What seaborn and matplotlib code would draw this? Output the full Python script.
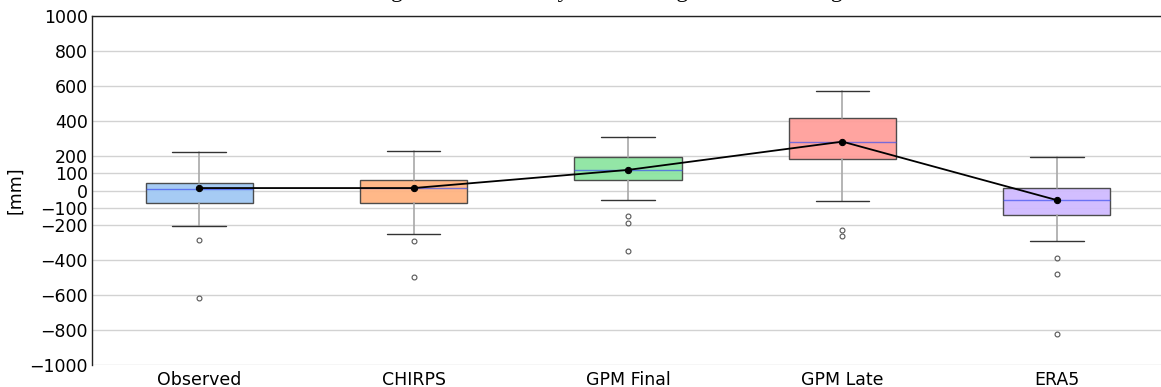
import numpy as np
import matplotlib
matplotlib.use("Agg")
import matplotlib.pyplot as plt
import seaborn as sns

# ---- data ----
categories = ["Observed", "CHIRPS", "GPM Final", "GPM Late", "ERA5"]
q1 = [-74, -74, 61, 181, -141]
medians = [10, 15, 118, 280, -53]
q3 = [44, 61, 194, 415, 15]
whisker_low = [-204, -250, -57, -63, -290]
whisker_high = [221, 225, 307, 570, 192]
outliers = [[-282, -615], [-290, -497], [-147, -189, -345], [-225, -261], [-389, -476, -823]]
means = [14, 14, 118, 280, -55]
y_ticks = [1000, 800, 600, 400, 200, 100, 0, -100, -200, -400, -600, -800, -1000]
title = "Average annual anomaly relative to ground observing stations"

sns.set_theme(style="whitegrid")
palette = sns.color_palette("pastel")

fig = plt.figure(figsize=(11.61, 3.87), dpi=100)
ax = fig.add_axes([92 / 1161, 22 / 387, 1072 / 1161, 349 / 387])

stats = []
for i, c in enumerate(categories):
    stats.append(dict(label=c, q1=q1[i], med=medians[i], q3=q3[i],
                      whislo=whisker_low[i], whishi=whisker_high[i],
                      fliers=outliers[i], mean=means[i]))

pos = np.arange(len(categories))
bp = ax.bxp(stats, positions=pos, widths=0.5, patch_artist=True, showfliers=True,
            showmeans=False,
            boxprops=dict(edgecolor="#444444", linewidth=1.0),
            whiskerprops=dict(color="#a8a8a8", linewidth=1.2),
            capprops=dict(color="#333333", linewidth=1.0),
            medianprops=dict(color="#3f52f0", linewidth=1.0, alpha=0.7),
            flierprops=dict(marker="o", markersize=3.5, markerfacecolor="none",
                            markeredgecolor="#555555", markeredgewidth=0.8))
for patch, col in zip(bp["boxes"], palette[:5]):
    patch.set_facecolor(col)
    patch.set_alpha(0.95)

sns.lineplot(x=pos, y=means, ax=ax, color="black", marker="o", markersize=4.5,
             markeredgecolor="black", linewidth=1.3, zorder=5)

ax.set_xlim(-0.5, 4.5)
ax.set_ylim(-1000, 1000)
ax.set_yticks(y_ticks)
ax.set_yticklabels([f"{v}".replace("-", "\u2212") for v in y_ticks])
ax.set_xticks(pos)
ax.set_xticklabels(categories)
ax.tick_params(axis="both", labelsize=12.5, colors="black")
ax.tick_params(axis="x", length=2, width=0.6, pad=2, color="#cccccc")
ax.tick_params(axis="y", length=2, width=0.6, pad=1)
ax.grid(axis="y", color="#d2d2d2", linewidth=1.0)
ax.grid(axis="x", visible=False)
ax.set_axisbelow(True)

for s in ["left", "top"]:
    ax.spines[s].set_visible(True)
    ax.spines[s].set_color("#222222")
    ax.spines[s].set_linewidth(1.0)
ax.spines["bottom"].set_visible(False)
ax.spines["right"].set_visible(False)

ax.set_ylabel("[mm]", fontsize=12.5, color="black", labelpad=4)
ax.set_xlabel("")

fig.text(628 / 1161, 1.0 + 3 / 387, title, ha="center", va="baseline",
         family="Liberation Serif", fontsize=17, color="black")

fig.savefig("out.png", dpi=100)
